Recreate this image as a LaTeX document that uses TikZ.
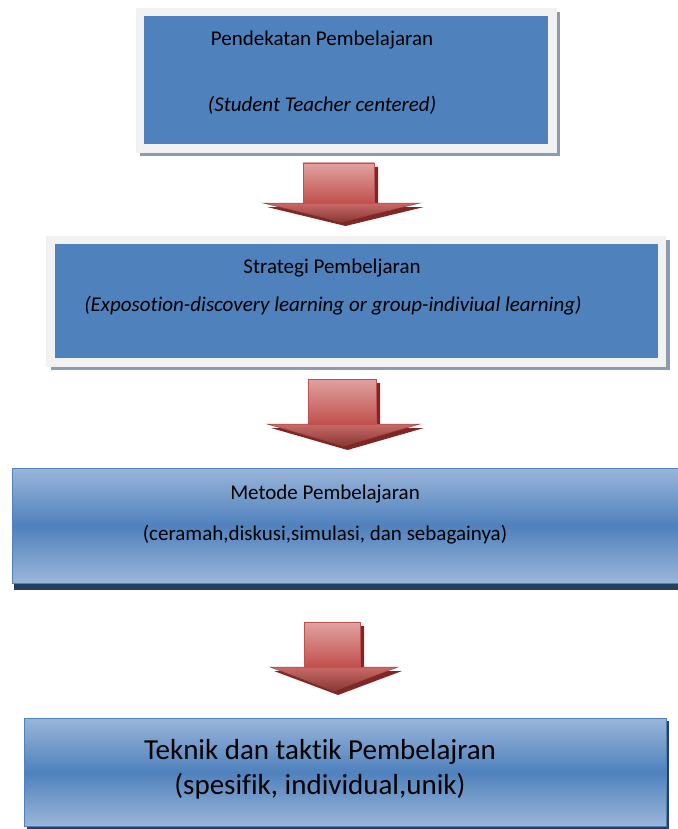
\documentclass[tikz,border=0pt]{standalone}
\usepackage{fontspec}
\setmainfont{Carlito}[Ligatures=NoCommon]
\usepackage{tikz}
\usetikzlibrary{shadows,calc}

\definecolor{officeblue}{HTML}{4F81BD}
\definecolor{lightblue}{HTML}{9AB6D9}
\definecolor{framegray}{HTML}{F2F2F2}
\definecolor{shadowgray}{HTML}{8D9BB0}
\definecolor{navy}{HTML}{243F60}
\definecolor{arrowred}{HTML}{C0504D}
\definecolor{arrowpink}{HTML}{E0A3A1}
\definecolor{arrowdark}{HTML}{7E2725}

\tikzset{
  frame/.style={rectangle, fill=framegray, draw=gray!12, inner sep=0pt,
    drop shadow={shadow xshift=4pt, shadow yshift=-4pt, fill=shadowgray, opacity=1}},
  plainbox/.style={rectangle, fill=officeblue, inner sep=0pt},
  shadedbox/.style={rectangle, draw=officeblue, line width=1pt, inner sep=0pt,
    top color=lightblue, bottom color=lightblue, middle color=officeblue},
  txt/.style={inner sep=0pt, font=\fontsize{21}{25}\selectfont},
  bigtxt/.style={inner sep=0pt, font=\fontsize{29}{34}\selectfont},
  arrowshadow/.style={fill=arrowdark},
  arrowshaft/.style={draw=arrowred, line width=0.8pt, top color=arrowpink, bottom color=arrowred},
  arrowhead/.style={draw=arrowred!80!black, line width=0.5pt, top color=arrowred!85!white, bottom color=arrowred!70!black}
}

% shaft left, shaft right, top, head base, head left, head right, tip
\newcommand{\redarrow}[7]{%
  \path[arrowshadow, xshift=4pt, yshift=-4pt] (#1,#3) -- (#2,#3) -- (#2,#4) -- (#6,#4)
    -- ({(#5+#6)/2},#7) -- (#5,#4) -- (#1,#4) -- cycle;
  \path[arrowhead] (#5,#4) -- (#6,#4) -- ({(#5+#6)/2},#7) -- cycle;
  \path[arrowshaft] (#1,#3) rectangle (#2,#4);
}

\begin{document}
\begin{tikzpicture}[x=1pt, y=-1pt]
  \useasboundingbox (0,0) rectangle (677,829);

  % Pendekatan
  \node[frame, minimum width=420pt, minimum height=144pt] (frame1) at (346,80) {};
  \node[plainbox, minimum width=404pt, minimum height=128pt] (pendekatan) at (frame1) {};
  \node[txt] (pendekatan-a) at (322,40) {Pendekatan Pembelajaran};
  \node[txt] (pendekatan-b) at (322,105) {\itshape (Student Teacher centered)};

  \redarrow{303}{374}{163}{203}{263}{420}{222}

  % Strategi
  \node[frame, minimum width=619pt, minimum height=130pt] (frame2) at (356,301) {};
  \node[plainbox, minimum width=603pt, minimum height=114pt] (strategi) at (frame2) {};
  \node[txt] (strategi-a) at (332,268) {Strategi Pembeljaran};
  \node[txt] (strategi-b) at (333,306) {\itshape (Exposotion-discovery learning or group-indiviual learning)};

  \redarrow{308}{376}{379}{424}{267}{420}{446}

  % Metode
  \node[shadedbox, minimum width=668pt, minimum height=115pt,
    drop shadow={shadow xshift=2pt, shadow yshift=-7pt, fill=navy, opacity=1}] (metode) at (346,525.5) {};
  \node[txt] (metode-a) at (325,494) {Metode Pembelajaran};
  \node[txt] (metode-b) at (325,535) {(ceramah,diskusi,simulasi, dan sebagainya)};

  \redarrow{304}{360}{622}{667}{270}{398}{691}

  % Teknik
  \node[shadedbox, minimum width=642pt, minimum height=108pt,
    drop shadow={shadow xshift=3pt, shadow yshift=-3pt, fill=navy, opacity=1}] (teknik) at (345,772) {};
  \node[bigtxt] (teknik-a) at (320,752) {Teknik dan taktik Pembelajran};
  \node[bigtxt] (teknik-b) at (320,786) {(spesifik, individual,unik)};
\end{tikzpicture}
\end{document}
